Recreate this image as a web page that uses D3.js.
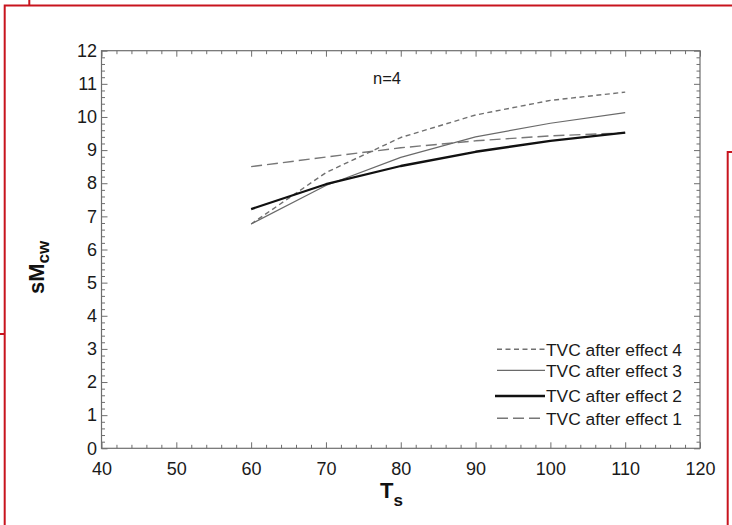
<!DOCTYPE html>
<html>
<head>
<meta charset="utf-8">
<script src="https://cdn.jsdelivr.net/npm/d3@7"></script>
<style>
  html, body { margin: 0; padding: 0; background: #fff; }
  svg { display: block; font-family: "Liberation Sans", Arial, sans-serif; }
</style>
</head>
<body>
<svg id="chart" width="732" height="525"></svg>
<script>
// Sweetener temperature (Ts) and the resulting sMcw for each TVC placement, n=4
const ts = [60, 70, 80, 90, 100, 110];
const tvcEffect4 = [6.77, 8.32, 9.38, 10.06, 10.50, 10.75];
const tvcEffect3 = [6.77, 7.93, 8.78, 9.40, 9.81, 10.13];
const tvcEffect2 = [7.22, 7.97, 8.52, 8.95, 9.28, 9.53];
const tvcEffect1 = [8.50, 8.79, 9.07, 9.28, 9.43, 9.52];

const xTicks = [40, 50, 60, 70, 80, 90, 100, 110, 120];
const yTicks = [0, 1, 2, 3, 4, 5, 6, 7, 8, 9, 10, 11, 12];
const seriesNames = ["TVC after effect 4", "TVC after effect 3", "TVC after effect 2", "TVC after effect 1"];

const svg = d3.select("#chart");

// frame lines of the surrounding page boxes
const red = "#c8141e";
const frame = svg.append("g").attr("stroke", red).attr("stroke-width", 2).attr("fill", "none");
frame.append("path").attr("d", "M4.7,525 V5.5 H732");
frame.append("path").attr("d", "M29.3,0 V5.5");
frame.append("path").attr("d", "M0,334 H4.7");
frame.append("path").attr("d", "M732,152 H727.7 V525");

const m = { left: 101.5, top: 50.7, right: 700, bottom: 448.3 };
const x = d3.scaleLinear().domain([40, 120]).range([m.left, m.right]);
const y = d3.scaleLinear().domain([0, 12]).range([m.bottom, m.top]);

const axisColor = "#6e6e6e";
const labelColor = "#1a1a1a";
const xMinor = d3.range(40, 120.01, 2).filter(v => v % 10 !== 0);
const yMinor = d3.range(0, 12.001, 0.2).map(v => +v.toFixed(1)).filter(v => Math.abs(v - Math.round(v)) > 1e-6);

function styleAxis(g) {
  g.select(".domain").remove();
  g.selectAll("line").attr("stroke", axisColor).attr("stroke-width", 1);
  g.selectAll("text").attr("fill", labelColor).attr("font-size", 18)
    .attr("font-family", "'Liberation Sans', Arial, sans-serif");
}

// bottom axis
svg.append("g").attr("transform", `translate(0,${m.bottom})`)
  .call(d3.axisBottom(x).tickValues(xTicks).tickSize(-6).tickPadding(14).tickFormat(d3.format("d")))
  .call(styleAxis);
svg.append("g").attr("transform", `translate(0,${m.bottom})`)
  .call(d3.axisBottom(x).tickValues(xMinor).tickSize(-3.5).tickFormat(""))
  .call(styleAxis);
// top axis
svg.append("g").attr("transform", `translate(0,${m.top})`)
  .call(d3.axisTop(x).tickValues(xTicks).tickSize(-6).tickFormat(""))
  .call(styleAxis);
svg.append("g").attr("transform", `translate(0,${m.top})`)
  .call(d3.axisTop(x).tickValues(xMinor).tickSize(-3.5).tickFormat(""))
  .call(styleAxis);
// left axis
svg.append("g").attr("transform", `translate(${m.left},0)`)
  .call(d3.axisLeft(y).tickValues(yTicks).tickSize(-6).tickPadding(4.5).tickFormat(d3.format("d")))
  .call(styleAxis);
svg.append("g").attr("transform", `translate(${m.left},0)`)
  .call(d3.axisLeft(y).tickValues(yMinor).tickSize(-3.5).tickFormat(""))
  .call(styleAxis);
// right axis
svg.append("g").attr("transform", `translate(${m.right},0)`)
  .call(d3.axisRight(y).tickValues(yTicks).tickSize(-6).tickFormat(""))
  .call(styleAxis);
svg.append("g").attr("transform", `translate(${m.right},0)`)
  .call(d3.axisRight(y).tickValues(yMinor).tickSize(-3.5).tickFormat(""))
  .call(styleAxis);

// plot frame
svg.append("rect")
  .attr("x", m.left).attr("y", m.top)
  .attr("width", m.right - m.left).attr("height", m.bottom - m.top)
  .attr("fill", "none").attr("stroke", axisColor).attr("stroke-width", 1.2);

// series styles
const styles = [
  { color: "#707070", width: 1.4, dash: "5,3.5" },
  { color: "#6a6a6a", width: 1.2, dash: null },
  { color: "#111111", width: 2.3, dash: null },
  { color: "#777777", width: 1.4, dash: "11,5" }
];
const seriesValues = [tvcEffect4, tvcEffect3, tvcEffect2, tvcEffect1];

const line = d3.line().x(d => x(d[0])).y(d => y(d[1]));

// draw effect 1 first so the thicker lines sit on top
[3, 0, 1, 2].forEach(i => {
  const s = styles[i];
  svg.append("path")
    .datum(ts.map((t, j) => [t, seriesValues[i][j]]))
    .attr("d", line)
    .attr("fill", "none")
    .attr("stroke", s.color)
    .attr("stroke-width", s.width)
    .attr("stroke-dasharray", s.dash)
    .attr("stroke-linejoin", "round");
});

// legend
const legendRows = [349.3, 370.3, 396, 418.3];
const legend = svg.append("g");
seriesNames.forEach((name, i) => {
  const s = styles[i];
  const yy = legendRows[i];
  legend.append("line")
    .attr("x1", i === 2 ? 495 : 497).attr("x2", 545)
    .attr("y1", yy).attr("y2", yy)
    .attr("stroke", s.color).attr("stroke-width", s.width)
    .attr("stroke-dasharray", s.dash);
  legend.append("text")
    .attr("x", 546).attr("y", yy + 6.3)
    .attr("font-size", 17.4)
    .attr("fill", labelColor)
    .text(name);
});

// annotation
svg.append("text")
  .attr("x", 373).attr("y", 84)
  .attr("font-size", 16.5)
  .attr("fill", labelColor)
  .text("n=4");

// x axis title: T with subscript s
const xt = svg.append("text")
  .attr("x", 380).attr("y", 498)
  .attr("font-size", 22).attr("font-weight", "bold").attr("fill", "#111");
xt.append("tspan").text("T");
xt.append("tspan").attr("font-size", 17).attr("dy", 8).text("s");

// y axis title: sM with subscript cw
const yt = svg.append("text")
  .attr("transform", "translate(44,294) rotate(-90)")
  .attr("x", 0).attr("y", 0)
  .attr("font-size", 22).attr("font-weight", "bold").attr("fill", "#111");
yt.append("tspan").text("sM");
yt.append("tspan").attr("font-size", 17).attr("dy", 5).text("cw");
</script>
</body>
</html>
